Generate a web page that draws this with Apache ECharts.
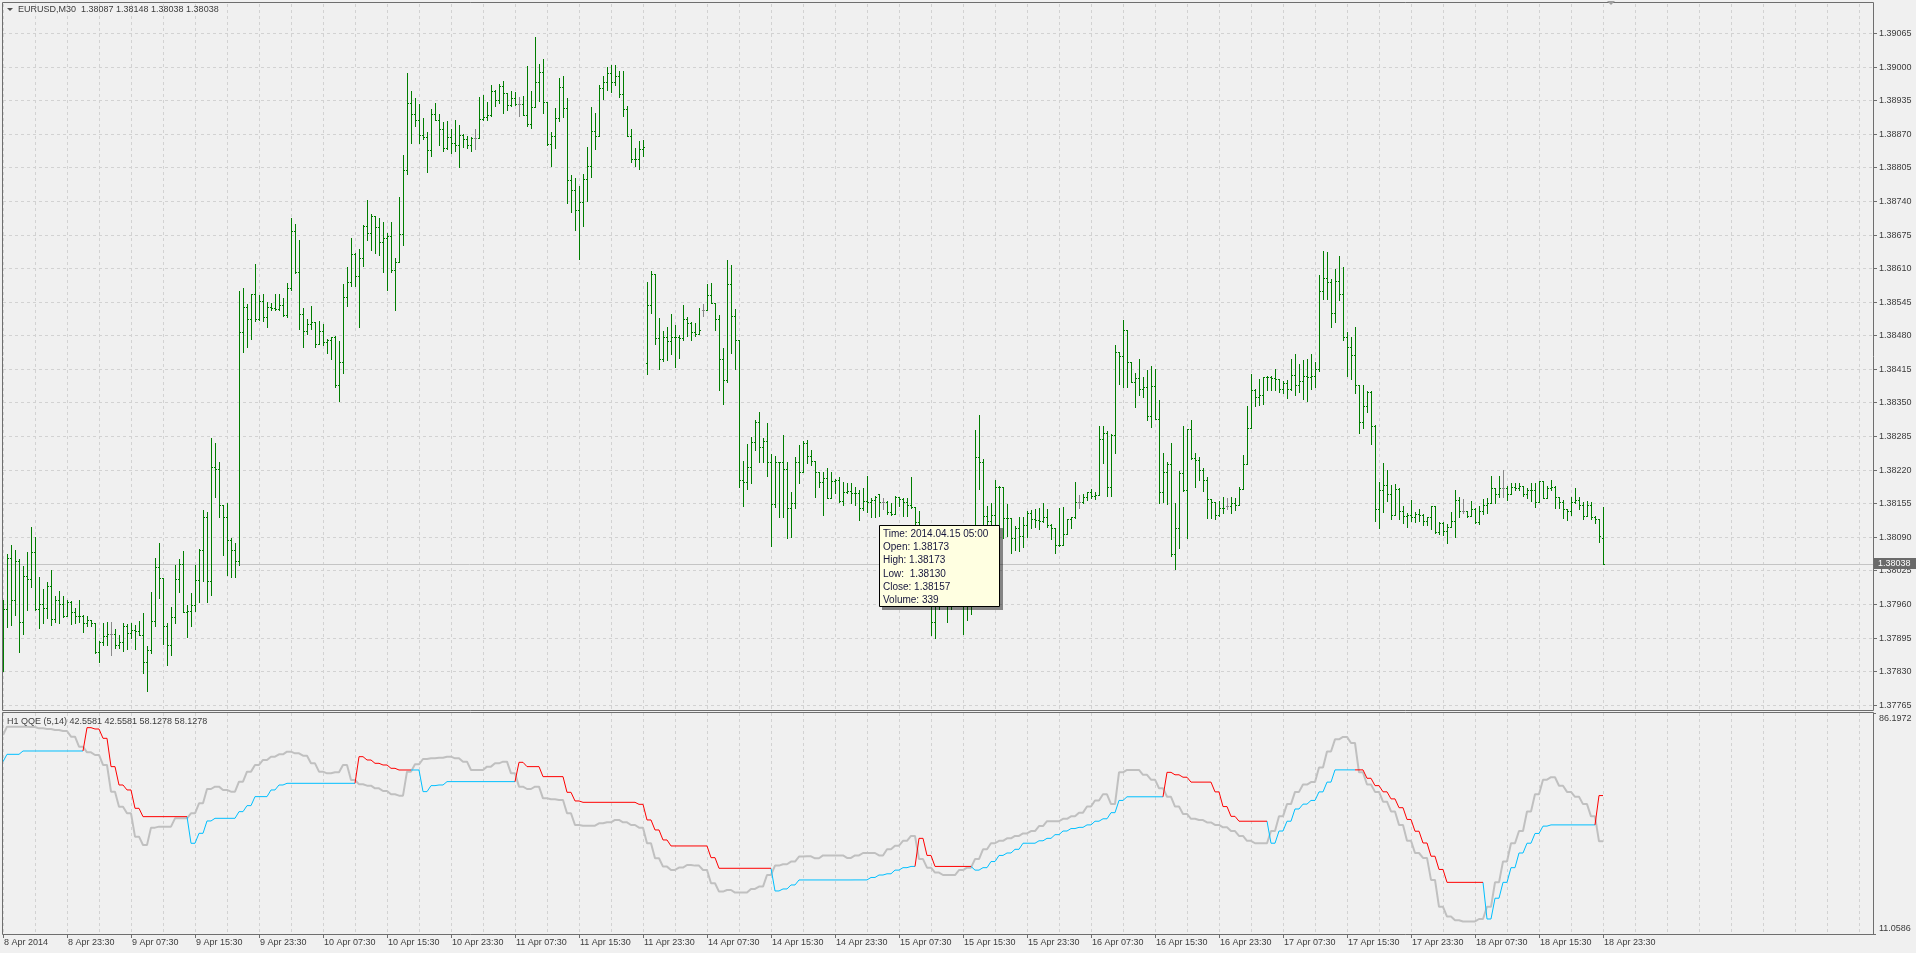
<!DOCTYPE html>
<html><head><meta charset="utf-8">
<script src="https://cdn.jsdelivr.net/npm/echarts@6/dist/echarts.min.js"></script>
<style>html,body{margin:0;padding:0;background:#f0f0f0;overflow:hidden}#c{width:1916px;height:953px}</style>
</head><body><div id="c"></div>
<script>
// ---- EURUSD M30 bars (8 Apr 2014 15:30 .. 18 Apr 2014 23:30) ----
const barOpen = [
1.37940,1.37951,1.38049,1.37967,1.38044,1.37925,1.38015,1.38009,1.38060,1.37951,
1.37961,1.37952,1.37995,1.37931,1.37967,1.37960,1.37937,1.37963,1.37944,1.37936,
1.37937,1.37923,1.37930,1.37923,1.37867,1.37887,1.37899,1.37903,1.37903,1.37881,
1.37886,1.37917,1.37904,1.37910,1.37907,1.37901,1.37848,1.37872,1.37928,1.38032,
1.38010,1.37917,1.37881,1.37935,1.38008,1.38038,1.37944,1.37946,1.37959,1.38007,
1.38065,1.38128,1.38004,1.38226,1.38221,1.38151,1.38128,1.38084,1.38065,1.38044,
1.38486,1.38534,1.38511,1.38559,1.38511,1.38546,1.38515,1.38534,1.38533,1.38531,
1.38539,1.38520,1.38571,1.38682,1.38602,1.38521,1.38489,1.38502,1.38505,1.38464,
1.38489,1.38467,1.38470,1.38476,1.38384,1.38429,1.38555,1.38583,1.38638,1.38594,
1.38629,1.38692,1.38678,1.38711,1.38689,1.38660,1.38668,1.38672,1.38607,1.38621,
1.38676,1.38800,1.38929,1.38908,1.38897,1.38868,1.38863,1.38839,1.38908,1.38897,
1.38879,1.38842,1.38863,1.38853,1.38848,1.38868,1.38859,1.38848,1.38861,1.38861,
1.38898,1.38902,1.38906,1.38952,1.38936,1.38963,1.38948,1.38926,1.38939,1.38928,
1.38928,1.38906,1.38889,1.38921,1.38970,1.38990,1.38932,1.38850,1.38865,1.38900,
1.38961,1.38919,1.38781,1.38761,1.38723,1.38738,1.38783,1.38807,1.38876,1.38865,
1.38958,1.38971,1.38988,1.38970,1.38982,1.38947,1.38918,1.38866,1.38821,1.38822,
1.38841,1.38426,1.38539,1.38599,1.38474,1.38435,1.38476,1.38468,1.38477,1.38476,
1.38474,1.38512,1.38504,1.38487,1.38483,1.38529,1.38529,1.38558,1.38542,1.38511,
1.38435,1.38393,1.38579,1.38517,1.38470,1.38200,1.38197,1.38225,1.38274,1.38312,
1.38263,1.38276,1.38234,1.38154,1.38235,1.38234,1.38221,1.38146,1.38155,1.38235,
1.38216,1.38272,1.38246,1.38237,1.38216,1.38197,1.38203,1.38166,1.38199,1.38200,
1.38160,1.38177,1.38178,1.38175,1.38174,1.38145,1.38160,1.38158,1.38161,1.38173,
1.38157,1.38157,1.38139,1.38135,1.38168,1.38163,1.38157,1.38152,1.38148,1.38119,
1.38085,1.38045,1.38000,1.37925,1.37960,1.37990,1.38010,1.37960,1.37990,1.38020,
1.38010,1.37960,1.37980,1.38030,1.38244,1.38234,1.38130,1.38120,1.38132,1.38186,
1.38187,1.38126,1.38127,1.38087,1.38107,1.38092,1.38112,1.38137,1.38124,1.38123,
1.38120,1.38128,1.38113,1.38107,1.38074,1.38075,1.38096,1.38124,1.38128,1.38158,
1.38158,1.38168,1.38176,1.38169,1.38171,1.38279,1.38290,1.38186,1.38287,1.38448,
1.38440,1.38490,1.38429,1.38390,1.38398,1.38377,1.38379,1.38323,1.38382,1.38319,
1.38176,1.38216,1.38231,1.38057,1.38108,1.38214,1.38181,1.38298,1.38242,1.38239,
1.38219,1.38200,1.38163,1.38158,1.38132,1.38145,1.38150,1.38150,1.38156,1.38152,
1.38182,1.38231,1.38300,1.38375,1.38361,1.38365,1.38400,1.38399,1.38398,1.38396,
1.38377,1.38387,1.38376,1.38404,1.38384,1.38392,1.38401,1.38400,1.38402,1.38415,
1.38565,1.38591,1.38584,1.38523,1.38586,1.38559,1.38477,1.38457,1.38441,1.38383,
1.38312,1.38343,1.38370,1.38305,1.38144,1.38181,1.38191,1.38172,1.38133,1.38183,
1.38141,1.38130,1.38133,1.38128,1.38134,1.38133,1.38120,1.38128,1.38149,1.38099,
1.38117,1.38102,1.38109,1.38121,1.38162,1.38141,1.38141,1.38131,1.38144,1.38118,
1.38141,1.38152,1.38155,1.38184,1.38173,1.38184,1.38184,1.38173,1.38186,1.38184,
1.38188,1.38172,1.38180,1.38181,1.38158,1.38199,1.38165,1.38184,1.38186,1.38168,
1.38158,1.38143,1.38141,1.38158,1.38162,1.38152,1.38130,1.38152,1.38128,1.38125,
1.38087];
const barHigh = [
1.37968,1.38057,1.38075,1.38065,1.38047,1.38034,1.38060,1.38109,1.38090,1.38012,
1.37990,1.38002,1.38026,1.37975,1.37986,1.37976,1.37968,1.37965,1.37952,1.37967,
1.37938,1.37936,1.37928,1.37923,1.37888,1.37924,1.37926,1.37925,1.37912,1.37901,
1.37923,1.37921,1.37923,1.37919,1.37928,1.37943,1.37879,1.37983,1.38050,1.38078,
1.38010,1.37923,1.37954,1.38036,1.38047,1.38063,1.37959,1.37981,1.38036,1.38066,
1.38142,1.38139,1.38282,1.38271,1.38235,1.38152,1.38155,1.38088,1.38078,1.38566,
1.38571,1.38541,1.38560,1.38617,1.38557,1.38559,1.38544,1.38542,1.38559,1.38559,
1.38552,1.38581,1.38706,1.38696,1.38665,1.38533,1.38511,1.38536,1.38502,1.38508,
1.38502,1.38473,1.38476,1.38479,1.38469,1.38580,1.38613,1.38668,1.38640,1.38647,
1.38694,1.38742,1.38715,1.38707,1.38707,1.38699,1.38678,1.38699,1.38629,1.38747,
1.38829,1.38988,1.38953,1.38939,1.38928,1.38900,1.38874,1.38917,1.38929,1.38908,
1.38892,1.38894,1.38879,1.38896,1.38887,1.38870,1.38866,1.38863,1.38879,1.38942,
1.38945,1.38932,1.38965,1.38955,1.38966,1.38972,1.38947,1.38953,1.38950,1.38942,
1.38943,1.39001,1.38953,1.39058,1.39005,1.39015,1.38930,1.38874,1.38919,1.38977,
1.38982,1.38939,1.38790,1.38784,1.38768,1.38792,1.38845,1.38921,1.38911,1.38965,
1.38982,1.39000,1.39003,1.39003,1.38992,1.38992,1.38924,1.38879,1.38842,1.38856,
1.38858,1.38583,1.38604,1.38595,1.38513,1.38488,1.38497,1.38522,1.38500,1.38481,
1.38539,1.38516,1.38506,1.38504,1.38532,1.38541,1.38579,1.38581,1.38542,1.38519,
1.38455,1.38626,1.38616,1.38531,1.38470,1.38237,1.38270,1.38284,1.38316,1.38331,
1.38281,1.38311,1.38250,1.38246,1.38235,1.38287,1.38234,1.38177,1.38244,1.38268,
1.38276,1.38277,1.38259,1.38237,1.38216,1.38216,1.38223,1.38216,1.38201,1.38206,
1.38197,1.38195,1.38195,1.38187,1.38181,1.38184,1.38208,1.38165,1.38170,1.38173,
1.38165,1.38160,1.38155,1.38169,1.38168,1.38165,1.38165,1.38205,1.38139,1.38140,
1.38100,1.38060,1.38010,1.37990,1.38020,1.38040,1.38020,1.38010,1.38040,1.38050,
1.38030,1.38000,1.38050,1.38297,1.38326,1.38240,1.38150,1.38155,1.38200,1.38188,
1.38147,1.38153,1.38115,1.38111,1.38128,1.38129,1.38141,1.38142,1.38143,1.38145,
1.38155,1.38143,1.38115,1.38105,1.38145,1.38147,1.38124,1.38128,1.38197,1.38171,
1.38172,1.38177,1.38182,1.38177,1.38305,1.38305,1.38295,1.38289,1.38461,1.38448,
1.38510,1.38490,1.38429,1.38408,1.38435,1.38400,1.38413,1.38421,1.38414,1.38355,
1.38253,1.38234,1.38271,1.38156,1.38218,1.38305,1.38298,1.38317,1.38253,1.38244,
1.38223,1.38205,1.38163,1.38158,1.38160,1.38167,1.38165,1.38167,1.38165,1.38186,
1.38248,1.38343,1.38406,1.38377,1.38395,1.38400,1.38401,1.38401,1.38414,1.38390,
1.38392,1.38393,1.38434,1.38444,1.38425,1.38432,1.38435,1.38443,1.38428,1.38597,
1.38644,1.38641,1.38588,1.38608,1.38633,1.38613,1.38486,1.38477,1.38496,1.38384,
1.38384,1.38372,1.38372,1.38307,1.38197,1.38232,1.38220,1.38191,1.38193,1.38185,
1.38149,1.38136,1.38161,1.38139,1.38143,1.38134,1.38128,1.38150,1.38150,1.38118,
1.38118,1.38115,1.38139,1.38180,1.38167,1.38164,1.38141,1.38159,1.38146,1.38150,
1.38163,1.38165,1.38208,1.38184,1.38207,1.38220,1.38189,1.38194,1.38194,1.38194,
1.38189,1.38184,1.38194,1.38195,1.38199,1.38199,1.38189,1.38200,1.38188,1.38168,
1.38162,1.38144,1.38167,1.38185,1.38167,1.38157,1.38159,1.38157,1.38131,1.38118,
1.38148];
const barLow = [
1.37830,1.37915,1.37919,1.37939,1.37868,1.37902,1.37949,1.37993,1.37949,1.37913,
1.37924,1.37933,1.37919,1.37926,1.37924,1.37935,1.37936,1.37922,1.37923,1.37926,
1.37906,1.37917,1.37918,1.37866,1.37847,1.37881,1.37880,1.37862,1.37875,1.37875,
1.37870,1.37873,1.37894,1.37873,1.37901,1.37826,1.37791,1.37865,1.37918,1.37972,
1.37883,1.37843,1.37862,1.37923,1.37984,1.37944,1.37896,1.37917,1.37946,1.37963,
1.38004,1.37964,1.37977,1.38167,1.38128,1.38054,1.38017,1.38013,1.38013,1.38036,
1.38447,1.38457,1.38473,1.38507,1.38510,1.38507,1.38496,1.38528,1.38528,1.38528,
1.38518,1.38515,1.38568,1.38600,1.38493,1.38457,1.38483,1.38492,1.38457,1.38465,
1.38462,1.38446,1.38434,1.38379,1.38352,1.38408,1.38537,1.38576,1.38576,1.38497,
1.38614,1.38665,1.38645,1.38639,1.38636,1.38603,1.38567,1.38603,1.38529,1.38621,
1.38655,1.38792,1.38853,1.38885,1.38853,1.38859,1.38795,1.38826,1.38896,1.38848,
1.38837,1.38840,1.38832,1.38836,1.38805,1.38845,1.38842,1.38837,1.38840,1.38861,
1.38897,1.38897,1.38905,1.38923,1.38929,1.38910,1.38916,1.38923,1.38926,1.38905,
1.38906,1.38885,1.38882,1.38921,1.38934,1.38910,1.38848,1.38808,1.38842,1.38894,
1.38902,1.38736,1.38718,1.38684,1.38627,1.38692,1.38739,1.38787,1.38840,1.38865,
1.38938,1.38955,1.38950,1.38965,1.38942,1.38905,1.38865,1.38816,1.38808,1.38801,
1.38826,1.38405,1.38524,1.38463,1.38414,1.38431,1.38433,1.38443,1.38418,1.38437,
1.38471,1.38479,1.38471,1.38479,1.38487,1.38517,1.38528,1.38542,1.38490,1.38374,
1.38348,1.38390,1.38445,1.38415,1.38187,1.38150,1.38182,1.38194,1.38258,1.38234,
1.38235,1.38208,1.38073,1.38148,1.38129,1.38129,1.38087,1.38089,1.38145,1.38195,
1.38218,1.38232,1.38229,1.38168,1.38186,1.38132,1.38165,1.38165,1.38174,1.38158,
1.38152,1.38174,1.38156,1.38152,1.38123,1.38142,1.38139,1.38129,1.38129,1.38130,
1.38143,1.38135,1.38132,1.38135,1.38150,1.38130,1.38130,1.38145,1.38110,1.38070,
1.38030,1.37990,1.37900,1.37895,1.37950,1.37970,1.37926,1.37950,1.37970,1.37990,
1.37903,1.37930,1.37940,1.38060,1.38182,1.38100,1.38100,1.38087,1.38106,1.38094,
1.38087,1.38092,1.38059,1.38065,1.38063,1.38071,1.38089,1.38107,1.38110,1.38105,
1.38119,1.38110,1.38085,1.38058,1.38073,1.38094,1.38097,1.38108,1.38126,1.38145,
1.38155,1.38161,1.38165,1.38163,1.38174,1.38232,1.38169,1.38169,1.38253,1.38386,
1.38379,1.38379,1.38390,1.38342,1.38365,1.38360,1.38316,1.38303,1.38319,1.38156,
1.38158,1.38154,1.38053,1.38027,1.38068,1.38179,1.38087,1.38240,1.38187,1.38200,
1.38179,1.38126,1.38126,1.38124,1.38130,1.38137,1.38143,1.38137,1.38142,1.38158,
1.38182,1.38231,1.38300,1.38343,1.38345,1.38347,1.38375,1.38374,1.38374,1.38371,
1.38368,1.38359,1.38375,1.38365,1.38370,1.38357,1.38352,1.38376,1.38380,1.38410,
1.38550,1.38550,1.38497,1.38505,1.38548,1.38470,1.38401,1.38395,1.38368,1.38291,
1.38301,1.38331,1.38270,1.38120,1.38107,1.38139,1.38159,1.38125,1.38133,1.38125,
1.38117,1.38109,1.38120,1.38118,1.38120,1.38113,1.38112,1.38105,1.38097,1.38096,
1.38094,1.38078,1.38109,1.38089,1.38128,1.38137,1.38128,1.38135,1.38117,1.38115,
1.38135,1.38136,1.38155,1.38155,1.38168,1.38168,1.38162,1.38178,1.38180,1.38181,
1.38170,1.38165,1.38160,1.38147,1.38158,1.38165,1.38165,1.38181,1.38146,1.38146,
1.38126,1.38122,1.38133,1.38155,1.38144,1.38125,1.38130,1.38125,1.38116,1.38081,
1.38038];
const barClose = [
1.37951,1.38049,1.37967,1.38044,1.37925,1.38015,1.38009,1.38060,1.37951,1.37961,
1.37952,1.37995,1.37931,1.37967,1.37960,1.37937,1.37963,1.37944,1.37936,1.37937,
1.37923,1.37930,1.37923,1.37867,1.37887,1.37899,1.37903,1.37903,1.37881,1.37886,
1.37917,1.37904,1.37910,1.37907,1.37901,1.37848,1.37872,1.37928,1.38032,1.38010,
1.37917,1.37881,1.37935,1.38008,1.38038,1.37944,1.37946,1.37959,1.38007,1.38065,
1.38128,1.38004,1.38226,1.38221,1.38151,1.38128,1.38084,1.38065,1.38044,1.38486,
1.38534,1.38511,1.38559,1.38511,1.38546,1.38515,1.38534,1.38533,1.38531,1.38539,
1.38520,1.38571,1.38682,1.38602,1.38521,1.38489,1.38502,1.38505,1.38464,1.38489,
1.38467,1.38470,1.38476,1.38384,1.38429,1.38555,1.38583,1.38638,1.38594,1.38629,
1.38692,1.38678,1.38711,1.38689,1.38660,1.38668,1.38672,1.38607,1.38621,1.38676,
1.38800,1.38929,1.38908,1.38897,1.38868,1.38863,1.38839,1.38908,1.38897,1.38879,
1.38842,1.38863,1.38853,1.38848,1.38868,1.38859,1.38848,1.38861,1.38861,1.38898,
1.38902,1.38906,1.38952,1.38936,1.38963,1.38948,1.38926,1.38939,1.38928,1.38928,
1.38906,1.38889,1.38921,1.38970,1.38990,1.38932,1.38850,1.38865,1.38900,1.38961,
1.38919,1.38781,1.38761,1.38723,1.38738,1.38783,1.38807,1.38876,1.38865,1.38958,
1.38971,1.38988,1.38970,1.38982,1.38947,1.38918,1.38866,1.38821,1.38822,1.38841,
1.38845,1.38539,1.38599,1.38474,1.38435,1.38476,1.38468,1.38477,1.38476,1.38474,
1.38512,1.38504,1.38487,1.38483,1.38490,1.38529,1.38558,1.38542,1.38511,1.38435,
1.38393,1.38579,1.38517,1.38470,1.38200,1.38197,1.38225,1.38274,1.38312,1.38263,
1.38276,1.38234,1.38154,1.38235,1.38234,1.38221,1.38146,1.38155,1.38235,1.38216,
1.38272,1.38246,1.38237,1.38216,1.38197,1.38203,1.38166,1.38199,1.38200,1.38160,
1.38177,1.38178,1.38175,1.38174,1.38145,1.38160,1.38158,1.38161,1.38168,1.38157,
1.38157,1.38139,1.38135,1.38168,1.38163,1.38157,1.38152,1.38148,1.38119,1.38085,
1.38045,1.38000,1.37925,1.37960,1.37990,1.38010,1.37960,1.37990,1.38020,1.38010,
1.37960,1.37980,1.38030,1.38244,1.38234,1.38130,1.38120,1.38132,1.38186,1.38187,
1.38126,1.38127,1.38087,1.38107,1.38092,1.38112,1.38137,1.38124,1.38123,1.38120,
1.38128,1.38113,1.38107,1.38074,1.38075,1.38096,1.38124,1.38128,1.38158,1.38158,
1.38168,1.38176,1.38169,1.38171,1.38279,1.38290,1.38186,1.38287,1.38448,1.38440,
1.38490,1.38429,1.38390,1.38398,1.38377,1.38379,1.38323,1.38382,1.38319,1.38176,
1.38216,1.38231,1.38057,1.38108,1.38214,1.38181,1.38298,1.38242,1.38239,1.38219,
1.38200,1.38163,1.38158,1.38132,1.38145,1.38146,1.38150,1.38156,1.38152,1.38182,
1.38231,1.38300,1.38375,1.38361,1.38365,1.38400,1.38399,1.38398,1.38396,1.38377,
1.38387,1.38376,1.38404,1.38384,1.38392,1.38401,1.38400,1.38402,1.38415,1.38565,
1.38591,1.38584,1.38523,1.38586,1.38559,1.38477,1.38457,1.38441,1.38383,1.38312,
1.38343,1.38370,1.38305,1.38144,1.38181,1.38191,1.38172,1.38133,1.38183,1.38141,
1.38130,1.38133,1.38128,1.38134,1.38133,1.38120,1.38128,1.38149,1.38099,1.38117,
1.38102,1.38109,1.38121,1.38162,1.38141,1.38141,1.38131,1.38144,1.38118,1.38141,
1.38152,1.38155,1.38184,1.38173,1.38184,1.38184,1.38173,1.38186,1.38184,1.38188,
1.38172,1.38180,1.38181,1.38158,1.38199,1.38165,1.38184,1.38186,1.38168,1.38158,
1.38143,1.38141,1.38158,1.38162,1.38152,1.38130,1.38152,1.38128,1.38125,1.38091,
1.38038];

// ---- QQE(5,14) from H1, one value per H1 bar (H1 bar h covers M30 bars 2h-1, 2h) ----
const qqeRsiH1 = [
78.72,81.55,81.55,81.55,81.44,80.98,80.76,80.42,80.08,78.15,
74.75,72.83,71.92,68.52,59.46,54.36,52.09,44.16,41.33,47.22,
47.56,47.56,50.39,50.39,52.09,55.49,60.36,61.16,60.03,59.46,
62.86,66.26,68.52,70.22,71.35,72.15,73.05,72.49,71.69,69.09,
66.26,65.69,66.03,68.52,63.42,61.95,61.50,60.59,59.69,58.55,
58.10,66.26,68.75,70.56,70.79,71.01,71.35,70.79,69.65,66.82,
66.82,67.96,69.09,69.65,65.69,61.16,60.36,61.16,57.19,56.85,
56.63,52.09,48.13,47.90,47.90,48.69,49.03,49.83,49.03,48.13,
47.22,41.90,36.80,33.97,32.83,33.63,34.53,34.31,32.83,28.30,
25.47,26.03,25.13,25.13,26.37,27.17,31.13,34.31,34.76,35.67,
37.37,37.48,36.80,37.77,37.77,37.77,36.94,37.77,38.60,38.60,
37.77,39.85,41.09,42.75,44.41,36.52,33.61,31.95,31.11,31.11,
32.78,33.61,36.52,39.85,41.92,42.75,43.58,44.41,45.24,46.07,
47.74,49.40,49.40,50.23,51.06,52.31,54.39,56.47,58.55,55.22,
66.02,66.86,66.86,65.19,63.53,60.62,57.71,54.39,51.89,50.23,
49.81,48.98,48.15,47.32,46.07,44.41,42.75,41.92,41.92,46.07,
51.06,55.22,59.38,61.87,62.70,67.69,73.09,77.24,78.07,76.00,
66.02,61.87,59.38,56.05,52.73,48.15,42.75,38.60,36.94,29.45,
20.31,16.99,15.74,15.32,15.32,16.16,20.31,28.62,35.69,41.92,
46.07,52.73,58.55,63.53,64.36,61.46,59.38,57.71,55.22,51.06,
42.5581];
const qqeTrailH1 = [
69.65,72.15,72.15,73.28,73.28,73.28,73.28,73.28,73.28,73.28,
73.28,81.21,80.76,77.59,67.96,61.72,60.03,53.79,50.96,50.96,
50.96,50.96,50.96,50.96,41.90,45.29,49.49,50.39,50.39,50.39,
52.66,54.70,57.76,57.76,60.03,61.72,62.29,62.29,62.29,62.29,
62.29,62.29,62.29,62.29,62.29,71.35,70.22,69.09,68.52,67.39,
66.82,66.82,66.82,59.46,61.50,61.72,62.86,62.86,62.86,62.86,
62.86,62.86,62.86,62.86,62.86,69.43,67.96,67.96,64.56,64.56,
64.56,59.23,56.29,55.83,55.83,55.83,55.83,55.83,55.83,55.83,
55.15,49.83,46.43,43.03,40.99,40.99,40.99,40.99,40.99,37.02,
33.40,33.40,33.40,33.40,33.40,33.40,33.40,25.69,26.37,27.73,
29.43,29.43,29.43,29.43,29.43,29.43,29.43,29.45,29.45,30.28,
31.11,31.53,32.78,33.61,34.03,43.58,37.77,34.03,34.03,34.03,
34.03,34.03,32.78,33.61,35.69,37.77,38.60,39.85,41.92,41.92,
42.75,43.58,44.83,46.07,46.91,47.32,48.15,49.40,50.23,52.31,
56.47,57.71,57.71,57.71,57.71,57.71,66.02,65.19,64.36,62.70,
62.70,62.70,59.38,54.39,51.06,49.40,49.40,49.40,49.40,41.92,
46.07,49.40,53.56,55.22,56.47,59.38,62.70,66.86,66.86,66.86,
66.86,64.00,61.50,59.40,57.00,54.00,50.00,46.00,42.00,37.50,
33.00,28.62,28.62,28.62,28.62,28.62,16.16,23.22,28.62,33.61,
38.60,41.92,45.24,47.74,48.15,48.15,48.15,48.15,48.15,48.15,
58.1278];

// ---- axis ticks / labels ----
const priceTicks = [1.39065,1.39000,1.38935,1.38870,1.38805,1.38740,1.38675,1.38610,1.38545,1.38480,
  1.38415,1.38350,1.38285,1.38220,1.38155,1.38090,1.38025,1.37960,1.37895,1.37830,1.37765];
const indTicks = [86.1972, 11.0586];
const timeLabels = ['8 Apr 2014','8 Apr 23:30','9 Apr 07:30','9 Apr 15:30','9 Apr 23:30','10 Apr 07:30',
  '10 Apr 15:30','10 Apr 23:30','11 Apr 07:30','11 Apr 15:30','11 Apr 23:30','14 Apr 07:30','14 Apr 15:30',
  '14 Apr 23:30','15 Apr 07:30','15 Apr 15:30','15 Apr 23:30','16 Apr 07:30','16 Apr 15:30','16 Apr 23:30',
  '17 Apr 07:30','17 Apr 15:30','17 Apr 23:30','18 Apr 07:30','18 Apr 15:30','18 Apr 23:30'];
const tooltipLines = ['Time: 2014.04.15 05:00','Open: 1.38173','High: 1.38173','Low:  1.38130','Close: 1.38157','Volume: 339'];
const symbolName = 'EURUSD,M30';
const indName = 'H1 QQE (5,14)';

// ---- layout constants ----
const NCAT = 468, LABEL_EVERY = 16, GRID_EVERY = 8;
const PRICE_MIN = 1.37755, PRICE_MAX = 1.39121;
const IND_MIN = 11.0586, IND_MAX = 86.1972;
const FONT = '"Liberation Sans", Arial, sans-serif';
const TXT = '#3c3c3c', GRIDC = '#d2d2d2', BORDER = '#6e6e6e';

const cats = []; for (let i = 0; i < NCAT; i++) cats.push(String(i));
const nBars = barClose.length;
const ohlc = barClose.map((c, i) => [i, barOpen[i], barHigh[i], barLow[i], c]);
const h1 = i => Math.floor((i + 1) / 2);
const rsiM30 = barClose.map((_, i) => qqeRsiH1[h1(i)]);
const trailM30 = barClose.map((_, i) => qqeTrailH1[h1(i)]);
const red = trailM30.map((t, i) => t > rsiM30[i]);
const redData = trailM30.map((t, i) => (red[i] || (i + 1 < nBars && red[i + 1])) ? t : '-');
const blueData = trailM30.map((t, i) => (!red[i] || (i + 1 < nBars && !red[i + 1])) ? t : '-');
const f5 = v => v.toFixed(5);
const last = nBars - 1;

const chart = echarts.init(document.getElementById('c'), null, {renderer: 'canvas', width: 1916, height: 953});

const splitL = {show: true, interval: (i) => i % GRID_EVERY === 0, lineStyle: {color: GRIDC, width: 1, type: [3, 3]}};
const labelIdx = (i) => i % LABEL_EVERY === 0 && i / LABEL_EVERY < timeLabels.length;

const option = {
  backgroundColor: '#f0f0f0',
  animation: false,
  grid: [
    {left: 3, top: 4, width: 4 * (NCAT - 1), height: 706},
    {left: 3, top: 713, width: 4 * (NCAT - 1), height: 221}
  ],
  xAxis: [
    {type: 'category', gridIndex: 0, data: cats, boundaryGap: false,
      axisLine: {show: false}, axisTick: {show: false}, axisLabel: {show: false}, splitLine: splitL},
    {type: 'category', gridIndex: 1, data: cats, boundaryGap: false,
      axisLine: {show: false},
      axisTick: {show: true, interval: labelIdx, length: 4, lineStyle: {color: BORDER}},
      axisLabel: {show: true, interval: labelIdx, align: 'left', margin: 4, padding: [0, 0, 0, 1],
        fontSize: 9, fontFamily: FONT, color: TXT,
        formatter: (v, idx) => timeLabels[Math.round(Number(v) / LABEL_EVERY)]},
      splitLine: splitL}
  ],
  yAxis: [
    {type: 'value', gridIndex: 0, min: PRICE_MIN, max: PRICE_MAX, show: false},
    {type: 'value', gridIndex: 1, min: IND_MIN, max: IND_MAX, show: false}
  ],
  series: [
    // price grid lines + right axis labels
    {type: 'custom', xAxisIndex: 0, yAxisIndex: 0, silent: true, z: 1,
      data: priceTicks.map(v => [0, v]),
      renderItem: (p, api) => {
        const v = api.value(1);
        const pt = api.coord([0, v]);
        const xr = api.coord([NCAT - 1, v])[0] + 2;
        const y = Math.round(pt[1]) + 0.5;
        return {type: 'group', children: [
          {type: 'line', shape: {x1: pt[0], y1: y, x2: xr, y2: y}, style: {stroke: GRIDC, lineWidth: 1, lineDash: [3, 3]}},
          {type: 'line', shape: {x1: xr, y1: y, x2: xr + 4, y2: y}, style: {stroke: BORDER, lineWidth: 1}},
          {type: 'text', x: xr + 6, y: y, style: {text: f5(v), fill: TXT, font: '9px ' + FONT, verticalAlign: 'middle', align: 'left'}}
        ]};
      }},
    // bid line
    {type: 'custom', xAxisIndex: 0, yAxisIndex: 0, silent: true, z: 2,
      data: [[last, barClose[last]]],
      renderItem: (p, api) => {
        const v = api.value(1);
        const y = Math.round(api.coord([0, v])[1]) + 0.5;
        const xl = api.coord([0, v])[0] - 1;
        const xr = api.coord([NCAT - 1, v])[0] + 2;
        return {type: 'line', shape: {x1: xl, y1: y, x2: xr, y2: y}, style: {stroke: '#c4c4c4', lineWidth: 1}};
      }},
    // OHLC bars
    {type: 'custom', xAxisIndex: 0, yAxisIndex: 0, silent: true, z: 3,
      data: ohlc, encode: {x: 0, y: [1, 2, 3, 4]},
      renderItem: (p, api) => {
        const i = api.value(0), o = api.value(1), h = api.value(2), l = api.value(3), c = api.value(4);
        const x = Math.round(api.coord([i, h])[0]);
        const yH = Math.round(api.coord([i, Math.max(h, o, c)])[1]);
        const yL = Math.round(api.coord([i, Math.min(l, o, c)])[1]);
        const yO = Math.round(api.coord([i, o])[1]);
        const yC = Math.round(api.coord([i, c])[1]);
        const col = (o === c) ? '#8a8a8a' : '#007d00';
        return {type: 'group', children: [
          {type: 'rect', shape: {x: x, y: yH, width: 1, height: yL - yH + 1}, style: {fill: col}},
          {type: 'rect', shape: {x: x - 1, y: yO, width: 1, height: 1}, style: {fill: col}},
          {type: 'rect', shape: {x: x + 1, y: yC, width: 1, height: 1}, style: {fill: col}}
        ]};
      }},
    // bid label
    {type: 'custom', xAxisIndex: 0, yAxisIndex: 0, silent: true, z: 6,
      data: [[last, barClose[last]]],
      renderItem: (p, api) => {
        const v = api.value(1);
        const y = Math.round(api.coord([0, v])[1]);
        const xr = api.coord([NCAT - 1, v])[0] + 3;
        return {type: 'group', children: [
          {type: 'rect', shape: {x: xr, y: y - 6, width: 1916 - xr, height: 11}, style: {fill: '#6a6a6a'}},
          {type: 'text', x: xr + 4, y: y, style: {text: f5(v), fill: '#ffffff', font: '9px ' + FONT, verticalAlign: 'middle', align: 'left'}}
        ]};
      }},
    // indicator scale labels
    {type: 'custom', xAxisIndex: 1, yAxisIndex: 1, silent: true, z: 1,
      data: indTicks.map(v => [0, v]),
      renderItem: (p, api) => {
        const v = api.value(1);
        const y = api.coord([0, v])[1];
        const xr = api.coord([NCAT - 1, v])[0] + 2;
        const top = v === IND_MAX;
        return {type: 'group', children: [
          {type: 'line', shape: {x1: xr, y1: Math.round(y) + 0.5, x2: xr + 3, y2: Math.round(y) + 0.5}, style: {stroke: BORDER, lineWidth: 1}},
          {type: 'text', x: xr + 6, y: top ? y + 1 : y - 1, style: {text: String(v), fill: TXT, font: '9px ' + FONT, verticalAlign: top ? 'top' : 'bottom', align: 'left'}}
        ]};
      }},
    {type: 'line', xAxisIndex: 1, yAxisIndex: 1, data: rsiM30, showSymbol: false, symbol: 'none', silent: true, z: 3,
      lineStyle: {color: '#c0c0c0', width: 2}},
    {type: 'line', xAxisIndex: 1, yAxisIndex: 1, data: blueData, showSymbol: false, symbol: 'none', silent: true, z: 4,
      connectNulls: false, lineStyle: {color: '#00bfff', width: 1}},
    {type: 'line', xAxisIndex: 1, yAxisIndex: 1, data: redData, showSymbol: false, symbol: 'none', silent: true, z: 4,
      connectNulls: false, lineStyle: {color: '#ff0000', width: 1}}
  ],
  graphic: [
    {type: 'rect', shape: {x: 2.5, y: 2.5, width: 1871, height: 708}, style: {fill: null, stroke: BORDER, lineWidth: 1}, z: 10, silent: true},
    {type: 'rect', shape: {x: 2.5, y: 712.5, width: 1871, height: 222}, style: {fill: null, stroke: BORDER, lineWidth: 1}, z: 10, silent: true},
    {type: 'polygon', shape: {points: [[7, 8], [13, 8], [10, 11]]}, style: {fill: '#505050'}, z: 10, silent: true},
    {type: 'text', x: 18, y: 10, style: {text: symbolName + '  ' + [barOpen[last], barHigh[last], barLow[last], barClose[last]].map(f5).join(' '),
      fill: TXT, font: '9px ' + FONT, verticalAlign: 'middle'}, z: 10, silent: true},
    {type: 'text', x: 7, y: 722, style: {text: indName + ' ' + [rsiM30[last], rsiM30[last], trailM30[last], trailM30[last]].map(v => v.toFixed(4)).join(' '),
      fill: TXT, font: '9px ' + FONT, verticalAlign: 'middle'}, z: 10, silent: true},
    {type: 'polygon', shape: {points: [[1607, 1], [1615, 1], [1611, 5]]}, style: {fill: '#a0a0a0'}, z: 10, silent: true},
    // hover tooltip box
    {type: 'group', z: 20, silent: true, children: [
      {type: 'rect', shape: {x: 882, y: 528, width: 121, height: 82}, style: {fill: 'rgba(0,0,0,0.45)'}, z: 20},
      {type: 'rect', shape: {x: 879.5, y: 525.5, width: 120, height: 81}, style: {fill: '#ffffe1', stroke: '#000000', lineWidth: 1}, z: 21},
      ...tooltipLines.map((t, k) => ({type: 'text', x: 883, y: 534.5 + k * 13.1, z: 22,
        style: {text: t, fill: '#14143c', font: '10px ' + FONT, verticalAlign: 'middle', align: 'left'}}))
    ]}
  ]
};
chart.setOption(option);
</script>
</body></html>
